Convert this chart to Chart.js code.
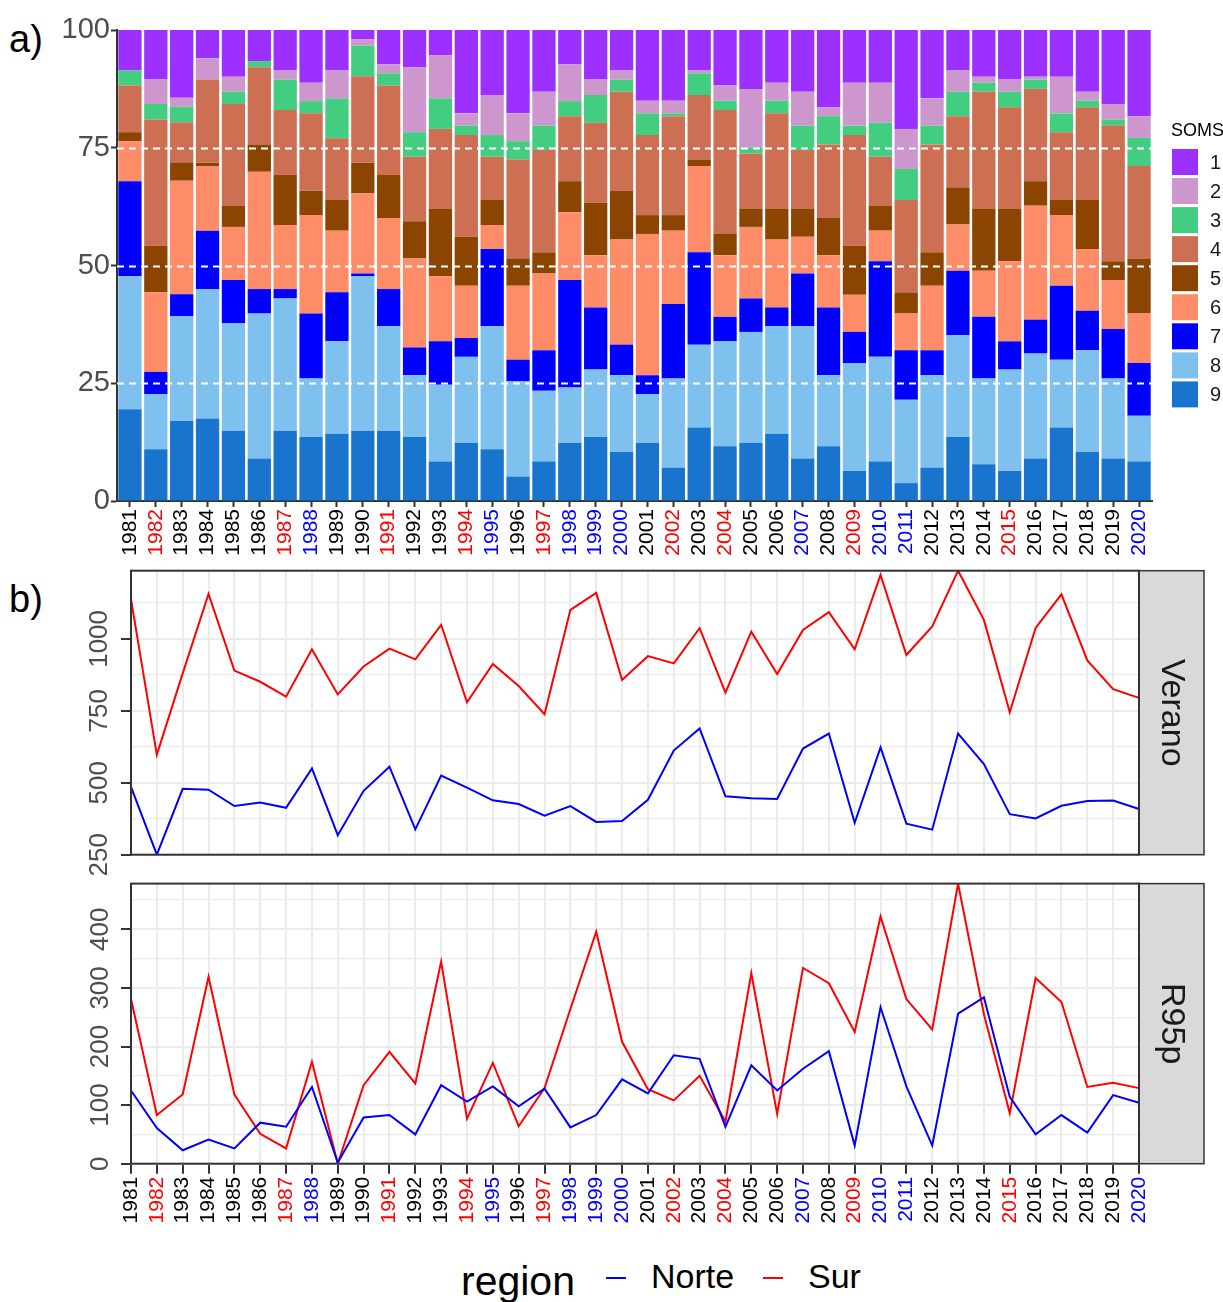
<!DOCTYPE html>
<html>
<head>
<meta charset="utf-8">
<title>SOMS y extremos de precipitación</title>
<script src="https://cdn.jsdelivr.net/npm/chart.js@4.4.1/dist/chart.umd.min.js"></script>
<style>
  html, body { margin: 0; padding: 0; background: #fff; }
  body { width: 1223px; height: 1302px; position: relative; overflow: hidden; font-family: "Liberation Sans", Arial, Helvetica, sans-serif; }
  canvas { position: absolute; left: 0; }
  .tag { position: absolute; left: 9px; font-size: 38px; color: #000; line-height: 1; }
  #legend { position: absolute; left: 0; top: 1255px; width: 1223px; height: 47px; color: #000; }
  #legend span { position: absolute; white-space: nowrap; line-height: 1.15; }
  #legend .sw { height: 2px; width: 20px; top: 22px; }
</style>
</head>
<body>
<div class="tag" style="top:20px">a)</div>
<div class="tag" style="top:580px">b)</div>
<canvas id="somsChart" width="1223" height="568" style="top:0;width:1223px;height:568px"></canvas>
<canvas id="veranoChart" width="1223" height="315" style="top:560px;width:1223px;height:315px"></canvas>
<canvas id="r95pChart" width="1223" height="375" style="top:870px;width:1223px;height:375px"></canvas>
<div id="legend">
  <span style="left:461px;top:3px;font-size:41px">region</span>
  <span class="sw" style="left:606px;background:#0000ff"></span>
  <span style="left:651px;top:2px;font-size:34px">Norte</span>
  <span class="sw" style="left:763px;background:#ff0000"></span>
  <span style="left:808px;top:2px;font-size:34px">Sur</span>
</div>
<script>
Chart.defaults.font.family = '"Liberation Sans", Arial, Helvetica, sans-serif';
Chart.defaults.animation = false;

// ---- data ----
const years = ['1981','1982','1983','1984','1985','1986','1987','1988','1989','1990',
  '1991','1992','1993','1994','1995','1996','1997','1998','1999','2000',
  '2001','2002','2003','2004','2005','2006','2007','2008','2009','2010',
  '2011','2012','2013','2014','2015','2016','2017','2018','2019','2020'];
const redYears = ['1982','1987','1991','1994','1997','2002','2004','2009','2015'];
const blueYears = ['1988','1995','1998','1999','2000','2007','2010','2011','2020'];

// SOM frequency per year (%), one array per SOM
const som1 = [8.6,10.5,14.5,6.0,9.9,6.6,8.6,11.2,8.6,2.0, 7.3,7.9,5.4,17.7,13.8,17.7,13.1,7.3,10.5,8.6,
  15.0,15.0,8.6,11.8,12.5,11.2,13.1,16.4,11.2,11.2, 21.0,14.5,8.6,9.9,10.5,9.9,9.9,13.1,15.7,18.3];
const som2 = [0,5.2,1.9,4.5,3.2,0,1.9,3.9,5.9,1.3, 1.9,13.8,9.1,2.6,8.5,5.9,7.2,7.8,3.3,1.9,
  2.7,2.7,0.6,3.2,12.4,3.8,7.2,1.9,9.1,8.5, 8.5,5.8,4.5,1.3,2.6,0.6,7.8,1.9,3.3,4.6];
const som3 = [3.2,3.3,3.3,0,2.6,1.3,6.5,2.6,8.5,6.5, 2.6,5.2,6.5,2.0,4.6,3.9,5.2,3.2,5.9,2.6,
  4.6,0.6,4.6,2.0,1.3,2.7,5.2,6.0,2.0,7.2, 6.6,4.0,5.2,1.9,3.3,2.0,4.0,1.4,1.3,6.0];
const som4 = [9.9,26.8,8.5,17.7,21.6,16.4,13.8,16.4,13.1,18.4, 19.0,13.7,17.0,21.6,9.2,21.0,21.7,13.8,17.0,21.0,
  17.0,21.0,13.7,26.3,11.8,20.3,12.5,15.6,23.5,10.4, 19.6,22.9,15.1,24.9,21.6,19.6,14.4,19.7,28.8,19.6];
const som5 = [1.9,9.9,3.9,0.7,4.5,5.8,10.6,5.2,6.5,6.5, 9.1,7.9,14.3,10.4,5.3,5.8,4.5,6.6,11.1,10.4,
  4.0,3.3,1.4,4.5,3.8,6.5,5.9,7.9,10.4,5.3, 4.5,7.1,7.9,13.1,11.1,5.2,3.2,10.4,4.0,11.7];
const som6 = [8.5,16.9,24.1,13.7,11.3,24.9,13.6,20.9,13.1,17.0, 15.1,18.9,13.8,11.1,5.1,15.7,16.3,14.4,11.1,22.3,
  30.0,15.6,18.3,13.1,15.2,14.4,7.8,11.1,7.9,6.5, 7.8,13.7,9.8,9.8,17.0,24.2,15.0,13.1,10.4,10.5];
const som7 = [20.2,4.7,4.7,12.4,9.1,5.2,2.0,13.8,10.4,0.6, 7.9,5.9,9.2,4.0,16.4,4.6,8.6,22.8,13.2,6.5,
  4.0,15.8,19.6,5.2,7.1,4.0,11.2,14.4,6.6,20.3, 10.5,5.3,13.7,13.1,6.0,7.2,15.7,8.4,10.5,11.2];
const som8 = [28.2,11.7,22.2,27.5,22.9,30.8,28.1,12.4,19.6,32.8, 22.2,13.1,16.3,18.3,26.1,20.2,15.0,11.8,14.3,16.3,
  10.4,18.9,17.6,22.3,23.6,22.8,28.1,15.1,22.9,22.2, 17.7,19.6,21.6,18.2,21.5,22.3,14.4,21.6,17.0,9.7];
const som9 = [19.5,11.0,17.0,17.5,14.9,9.0,14.9,13.6,14.3,14.9, 14.9,13.6,8.4,12.3,11.0,5.2,8.4,12.3,13.6,10.4,
  12.3,7.1,15.6,11.6,12.3,14.3,9.0,11.6,6.4,8.4, 3.8,7.1,13.6,7.8,6.4,9.0,15.6,10.4,9.0,8.4];

// Verano and R95p per region
const veranoNorte = [486,250,479,476,419,431,413,550,318,472, 556,338,525,483,439,426,386,419,364,367,
  441,612,689,453,446,444,619,671,361,623, 358,337,671,565,391,376,420,437,438,409];
const veranoSur = [1138,597,880,1156,890,851,799,964,807,904, 966,929,1049,780,913,836,738,1101,1160,857,
  940,915,1037,813,1025,878,1031,1093,964,1222, 944,1043,1237,1066,745,1038,1155,925,825,795];
const r95Norte = [125,61,23,41,26,70,63,131,2,79, 83,50,134,106,132,98,128,62,83,144,
  120,185,179,63,168,125,162,192,31,267, 132,31,256,284,114,50,83,53,117,104];
const r95Sur = [281,83,118,319,118,51,26,174,0,134, 191,137,345,77,172,64,129,264,396,208,
  127,108,150,72,325,85,334,308,225,422, 281,229,478,255,86,317,276,131,138,129];

// axis ticks (major ones get labels, the rest are minor grid lines)
const somTicks = [0, 25, 50, 75, 100];
const refLevels = [25, 50, 75];
const veranoTicks = [250, 375, 500, 625, 750, 875, 1000, 1125];
const veranoLabels = [250, 500, 750, 1000];
const r95Ticks = [0, 50, 100, 150, 200, 250, 300, 350, 400, 450];
const r95Labels = [0, 100, 200, 300, 400];

// ---- styling ----
const somColors = {
  '1': '#9B30FF', '2': '#CD96CD', '3': '#43CD80', '4': '#CD6F52', '5': '#8B4500',
  '6': '#FF8C69', '7': '#0000FF', '8': '#7EC0EE', '9': '#1874CD'
};
const yearLabelColors = years.map(y => redYears.includes(y) ? '#ff0000' : (blueYears.includes(y) ? '#0000ff' : '#000000'));
const axisGrey = '#4d4d4d';
const frameColor = '#333333';
const gridColor = '#ebebeb';

// white dashed reference lines drawn over the bars
const dashedLevels = {
  id: 'dashedLevels',
  afterDatasetsDraw(chart) {
    const { ctx, chartArea: a, scales: { y } } = chart;
    ctx.save();
    ctx.strokeStyle = '#ffffff';
    ctx.lineWidth = 2;
    ctx.setLineDash([7, 5]);
    refLevels.forEach(v => {
      const py = Math.round(y.getPixelForValue(v)) + 0.5;
      ctx.beginPath();
      ctx.moveTo(a.left, py);
      ctx.lineTo(a.right, py);
      ctx.stroke();
    });
    ctx.restore();
  }
};

// ggplot-like legend on the right of the bar chart
const somsLegend = {
  id: 'somsLegend',
  afterDraw(chart) {
    const { ctx, chartArea: a } = chart;
    const x0 = a.right + 20;
    ctx.save();
    ctx.fillStyle = '#000';
    ctx.font = '18px "Liberation Sans", Arial, sans-serif';
    ctx.textBaseline = 'middle';
    ctx.fillText('SOMS', x0 - 1, 131);
    const items = chart.data.datasets.slice().reverse();
    items.forEach((ds, i) => {
      const top = 149 + i * 29.05;
      ctx.fillStyle = ds.backgroundColor;
      ctx.fillRect(x0, top, 26, 26);
      ctx.fillStyle = '#1a1a1a';
      ctx.font = '20px "Liberation Sans", Arial, sans-serif';
      ctx.fillText(ds.label, x0 + 38, top + 14);
    });
    ctx.restore();
  }
};

// panel border and grey facet strip
const panelFrame = {
  id: 'panelFrame',
  beforeDraw(chart) {
    const { ctx, chartArea: a, scales } = chart;
    const s = scales.strip;
    ctx.save();
    ctx.fillStyle = '#d9d9d9';
    ctx.fillRect(s.left, a.top, s.right - s.left, a.bottom - a.top);
    ctx.strokeStyle = frameColor;
    ctx.lineWidth = 1.5;
    ctx.strokeRect(s.left, a.top, s.right - s.left, a.bottom - a.top);
    ctx.restore();
  },
  afterDatasetsDraw(chart) {
    const { ctx, chartArea: a } = chart;
    ctx.save();
    ctx.strokeStyle = frameColor;
    ctx.lineWidth = 2;
    ctx.strokeRect(a.left, a.top, a.right - a.left, a.bottom - a.top);
    ctx.restore();
  }
};

// ---- a) stacked bars ----
const somSeries = [['9', som9], ['8', som8], ['7', som7], ['6', som6], ['5', som5],
  ['4', som4], ['3', som3], ['2', som2], ['1', som1]];

new Chart(document.getElementById('somsChart'), {
  type: 'bar',
  data: {
    labels: years,
    datasets: somSeries.map(([name, values]) => ({
      label: name,
      data: values,
      backgroundColor: somColors[name],
      borderWidth: 0,
      barPercentage: 0.9,
      categoryPercentage: 1.0
    }))
  },
  options: {
    responsive: false,
    animation: false,
    layout: { padding: { top: 30, right: 71, bottom: 0, left: 0 } },
    plugins: { legend: { display: false }, tooltip: { enabled: false } },
    scales: {
      x: {
        stacked: true,
        grid: { offset: false, drawOnChartArea: false, tickLength: 6, tickColor: frameColor, tickWidth: 2 },
        border: { color: frameColor, width: 2 },
        ticks: {
          autoSkip: false, minRotation: 90, maxRotation: 90, padding: 2,
          font: { size: 21 },
          color: ctx => yearLabelColors[ctx.index]
        },
        afterFit: s => { s.height = 67; }
      },
      y: {
        stacked: true,
        min: 0,
        max: 100,
        afterBuildTicks: s => { s.ticks = somTicks.map(v => ({ value: v })); },
        ticks: { padding: 1, font: { size: 29 }, color: axisGrey },
        grid: { drawOnChartArea: false, tickLength: 6, tickColor: frameColor, tickWidth: 2 },
        border: { color: frameColor, width: 2 },
        afterFit: s => { s.width = 117; }
      }
    }
  },
  plugins: [dashedLevels, somsLegend]
});

// ---- b) line panels ----
function makePanel(canvasId, stripText, norte, sur, yMin, yMax, tickValues, labelValues, cfg) {
  const isMajor = v => labelValues.includes(v);
  return new Chart(document.getElementById(canvasId), {
    type: 'line',
    data: {
      labels: years,
      datasets: [
        { label: 'Norte', data: norte, borderColor: '#0000ff', backgroundColor: '#0000ff', borderWidth: 2, pointRadius: 0, tension: 0, fill: false },
        { label: 'Sur', data: sur, borderColor: '#ff0000', backgroundColor: '#ff0000', borderWidth: 2, pointRadius: 0, tension: 0, fill: false }
      ]
    },
    options: {
      responsive: false,
      animation: false,
      layout: { padding: { top: cfg.padTop, right: 19, bottom: cfg.padBottom, left: 0 } },
      plugins: { legend: { display: false }, tooltip: { enabled: false } },
      scales: {
        x: {
          offset: false,
          border: { display: false },
          grid: {
            color: gridColor, lineWidth: 2,
            drawTicks: cfg.showX, tickLength: 10, tickColor: frameColor, tickWidth: 2
          },
          ticks: {
            display: cfg.showX, autoSkip: false, minRotation: 90, maxRotation: 90, padding: 3,
            font: { size: 21 },
            color: ctx => yearLabelColors[ctx.index]
          },
          afterFit: s => { s.height = cfg.xHeight; }
        },
        y: {
          min: yMin,
          max: yMax,
          border: { display: false },
          afterBuildTicks: s => { s.ticks = tickValues.map(v => ({ value: v })); },
          grid: {
            color: gridColor,
            lineWidth: ctx => (ctx.tick && isMajor(ctx.tick.value)) ? 2 : 1.2,
            tickLength: 10,
            tickWidth: 2,
            tickColor: ctx => (ctx.tick && isMajor(ctx.tick.value)) ? frameColor : 'rgba(0,0,0,0)'
          },
          ticks: {
            autoSkip: false,
            minRotation: 90,
            maxRotation: 90,
            crossAlign: 'center',
            padding: cfg.yPad,
            font: { size: 26 },
            color: axisGrey,
            callback: v => (isMajor(v) ? String(v) : '')
          },
          afterFit: s => { s.width = 131; }
        },
        strip: {
          position: 'right',
          display: true,
          grid: { display: false },
          border: { display: false },
          ticks: { display: false },
          title: {
            display: true, text: stripText, color: '#1a1a1a',
            font: { size: 34 }, padding: { top: 12, bottom: 0 }
          },
          afterFit: s => { s.width = 65; }
        }
      }
    },
    plugins: [panelFrame]
  });
}

makePanel('veranoChart', 'Verano', veranoNorte, veranoSur, 250, 1237, veranoTicks, veranoLabels,
  { padTop: 10.7, padBottom: 20.3, xHeight: 0, showX: false, yPad: -8 });
makePanel('r95pChart', 'R95p', r95Norte, r95Sur, 0, 478, r95Ticks, r95Labels,
  { padTop: 9.3, padBottom: 0, xHeight: 81.3, showX: true, yPad: -2 });
</script>
</body>
</html>
